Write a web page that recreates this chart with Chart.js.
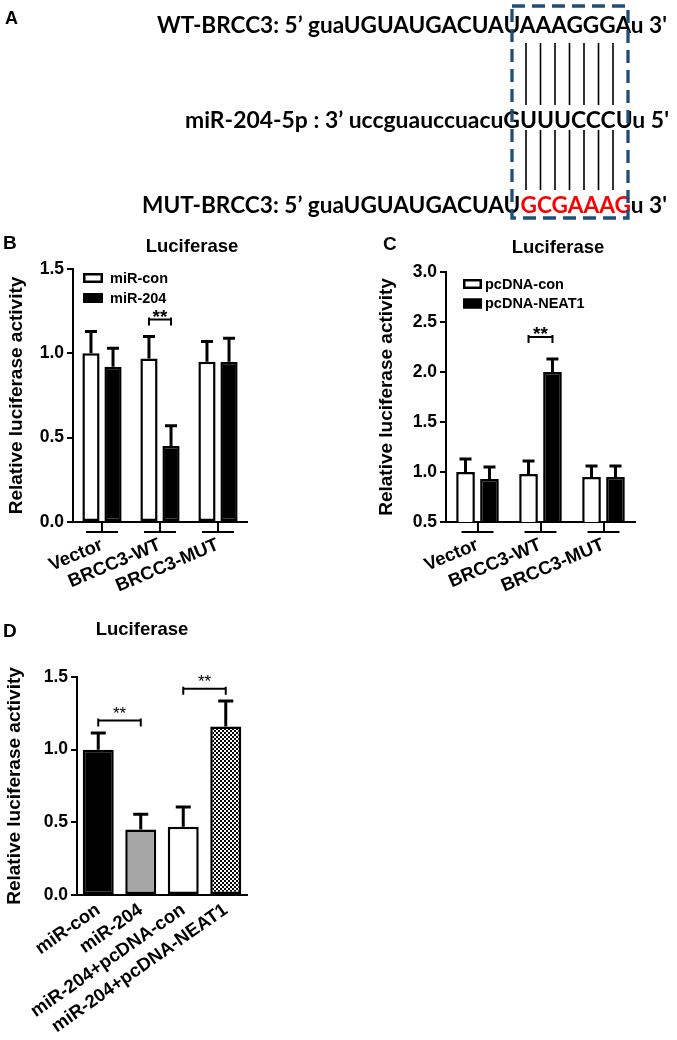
<!DOCTYPE html>
<html>
<head>
<meta charset="utf-8">
<script src="https://cdn.jsdelivr.net/npm/chart.js@4.4.1/dist/chart.umd.min.js"></script>
<style>
  html, body { margin: 0; padding: 0; background: #fff; }
  #page { position: relative; width: 677px; height: 1040px; overflow: hidden; background: #fff; }
  canvas { position: absolute; }
  #overlay { position: absolute; left: 0; top: 0; }
  .lbl { font-family: 'Liberation Sans', Arial, sans-serif; font-weight: bold; fill: #000; }
  .seq { font-family: Lato, 'Open Sans', sans-serif; font-weight: 700; font-size: 22px; fill: #000; }
</style>
</head>
<body>
<div id="page">
  <canvas id="chartB" width="330" height="380" style="left:0;top:230px"></canvas>
  <canvas id="chartC" width="337" height="380" style="left:340px;top:230px"></canvas>
  <canvas id="chartD" width="340" height="440" style="left:0;top:600px"></canvas>

  <svg id="overlay" width="677" height="1040">
    <text class="lbl" x="5" y="24" font-size="18">A</text>
    <text class="lbl" x="3" y="249" font-size="19">B</text>
    <text class="lbl" x="383" y="250" font-size="19">C</text>
    <text class="lbl" x="3" y="637" font-size="19">D</text>

    <text class="lbl" x="192" y="252" font-size="18.5" text-anchor="middle">Luciferase</text>
    <text class="lbl" x="558" y="253" font-size="18.5" text-anchor="middle">Luciferase</text>
    <text class="lbl" x="142" y="635" font-size="18.5" text-anchor="middle">Luciferase</text>

    <text class="seq" x="157" y="33" textLength="510" lengthAdjust="spacingAndGlyphs">WT-BRCC3: 5’ guaUGUAUGACUAUAAAGGGAu 3'</text>
    <text class="seq" x="185" y="128" textLength="484" lengthAdjust="spacingAndGlyphs">miR-204-5p : 3’ uccguauccuacuGUUUCCCUu 5'</text>
    <text class="seq" x="142" y="213" textLength="525" lengthAdjust="spacingAndGlyphs">MUT-BRCC3: 5’ guaUGUAUGACUAU<tspan fill="#ff0000">GCGAAAG</tspan>u 3'</text>
    <g id="pairLines" stroke="#000" stroke-width="1.6"></g>
    <rect x="512" y="6" width="116" height="212" fill="none" stroke="#1f4e79" stroke-width="3.3" stroke-dasharray="13 7"></rect>
  </svg>
</div>

<script>
// panel B
var groupLabels = ['Vector', 'BRCC3-WT', 'BRCC3-MUT'];
var bMirCon = [1.00, 0.97, 0.95];
var bMirConErr = [1.13, 1.10, 1.07];
var bMir204 = [0.92, 0.45, 0.95];
var bMir204Err = [1.03, 0.57, 1.09];

// panel C
var cPcdnaCon = [1.00, 0.98, 0.95];
var cPcdnaConErr = [1.13, 1.11, 1.06];
var cNeat1 = [0.93, 2.00, 0.95];
var cNeat1Err = [1.05, 2.13, 1.06];

// panel D
var dLabels = ['miR-con', 'miR-204', 'miR-204+pcDNA-con', 'miR-204+pcDNA-NEAT1'];
var dValues = [1.00, 0.45, 0.47, 1.16];
var dErr = [1.115, 0.555, 0.605, 1.335];

// significance brackets: [dataset, index] to [dataset, index] at y value
var bSig = [{ a: [0, 1], b: [1, 1], y: 1.2 }];
var cSig = [{ a: [0, 1], b: [1, 1], y: 2.35 }];
var dSig = [{ a: [0, 0], b: [0, 1], y: 1.2 }, { a: [0, 2], b: [0, 3], y: 1.42 }];

var yTitle = 'Relative luciferase activity';

// base-pairing lines in panel A
var pairs = document.getElementById('pairLines');
for (var k = 0; k < 7; k++) {
    var px = 526 + k * 14.5;
    [[43, 105], [130, 190]].forEach(function (seg) {
        var ln = document.createElementNS('http://www.w3.org/2000/svg', 'line');
        ln.setAttribute('x1', px); ln.setAttribute('x2', px);
        ln.setAttribute('y1', seg[0]); ln.setAttribute('y2', seg[1]);
        pairs.appendChild(ln);
    });
}

Chart.defaults.font.family = "'Liberation Sans', Arial, sans-serif";
Chart.defaults.color = '#000';
Chart.defaults.animation = false;

var errorBars = {
    id: 'errorBars',
    afterDatasetsDraw: function (chart, args, opts) {
        var ctx = chart.ctx, y = chart.scales.y;
        ctx.save();
        ctx.strokeStyle = '#000';
        ctx.lineWidth = 3;
        chart.data.datasets.forEach(function (ds, i) {
            chart.getDatasetMeta(i).data.forEach(function (bar, j) {
                var top = y.getPixelForValue(ds.err[j]);
                ctx.beginPath();
                ctx.moveTo(bar.x, bar.y);
                ctx.lineTo(bar.x, top);
                ctx.moveTo(bar.x - opts.cap, top);
                ctx.lineTo(bar.x + opts.cap, top);
                ctx.stroke();
            });
        });
        ctx.restore();
    }
};

var brackets = {
    id: 'brackets',
    afterDatasetsDraw: function (chart, args, opts) {
        var ctx = chart.ctx, y = chart.scales.y;
        ctx.save();
        ctx.strokeStyle = '#000';
        ctx.fillStyle = '#000';
        ctx.lineWidth = 2;
        ctx.font = opts.font;
        ctx.textAlign = 'center';
        ctx.textBaseline = 'alphabetic';
        opts.marks.forEach(function (m) {
            var a = chart.getDatasetMeta(m.a[0]).data[m.a[1]];
            var b = chart.getDatasetMeta(m.b[0]).data[m.b[1]];
            var yy = y.getPixelForValue(m.y);
            ctx.beginPath();
            ctx.moveTo(a.x, yy); ctx.lineTo(b.x, yy);
            ctx.moveTo(a.x, yy - 2); ctx.lineTo(a.x, yy + 6);
            ctx.moveTo(b.x, yy - 2); ctx.lineTo(b.x, yy + 6);
            ctx.stroke();
            ctx.fillText('**', (a.x + b.x) / 2, yy + opts.textDy);
        });
        ctx.restore();
    }
};

var groupLines = {
    id: 'groupLines',
    afterDraw: function (chart, args, opts) {
        var ctx = chart.ctx, x = chart.scales.x;
        var yb = chart.chartArea.bottom + opts.drop;
        ctx.save();
        ctx.strokeStyle = '#000';
        ctx.lineWidth = 2;
        chart.data.labels.forEach(function (l, i) {
            var c = x.getPixelForValue(i);
            ctx.beginPath();
            ctx.moveTo(c - opts.half, yb);
            ctx.lineTo(c + opts.half, yb);
            ctx.stroke();
        });
        ctx.restore();
    }
};

// legend drawn inside the plot, top-left, from the datasets
var innerLegend = {
    id: 'innerLegend',
    afterDraw: function (chart, args, opts) {
        var ctx = chart.ctx, area = chart.chartArea;
        ctx.save();
        ctx.font = 'bold 14.5px "Liberation Sans", Arial';
        ctx.textBaseline = 'middle';
        ctx.textAlign = 'left';
        chart.data.datasets.forEach(function (ds, i) {
            var x = area.left + opts.dx, y = area.top + opts.dy + i * opts.step;
            ctx.fillStyle = ds.backgroundColor;
            ctx.fillRect(x, y, opts.w, 10);
            ctx.strokeStyle = ds.borderColor;
            ctx.lineWidth = 2.5;
            ctx.strokeRect(x + 1.25, y + 1.25, opts.w - 2.5, 7.5);
            ctx.fillStyle = '#000';
            ctx.fillText(ds.label, x + opts.w + opts.gap, y + 5.5);
        });
        ctx.restore();
    }
};

function yAxis(min, max, width, titleTop) {
    return {
        min: min, max: max,
        afterFit: function (s) { s.width = width; },
        grid: { drawOnChartArea: false, tickLength: 6, color: '#000', lineWidth: 2 },
        border: { color: '#000', width: 2 },
        ticks: {
            stepSize: 0.5, padding: 3,
            font: { size: 17.5, weight: 'bold' },
            callback: function (v) { return v.toFixed(1); }
        },
        title: { display: true, text: yTitle, font: { size: 19, weight: 'bold' }, padding: { top: titleTop, bottom: 0 } }
    };
}

function groupedChart(id, names, vals, errs, yMin, yMax, pad, yWidth, titleTop, sig, leg) {
    return new Chart(document.getElementById(id), {
        type: 'bar',
        data: {
            labels: groupLabels,
            datasets: [{
                label: names[0], data: vals[0], err: errs[0],
                backgroundColor: '#fff', borderColor: '#000', borderWidth: 2.5, borderSkipped: false
            }, {
                label: names[1], data: vals[1], err: errs[1],
                backgroundColor: '#000', borderColor: '#000', borderWidth: 2.5, borderSkipped: false
            }]
        },
        options: {
            responsive: false,
            devicePixelRatio: 1,
            layout: { padding: { top: pad.top, right: pad.right, left: 0, bottom: 0 } },
            categoryPercentage: 0.76,
            barPercentage: 0.78,
            plugins: {
                legend: { display: false },
                tooltip: { enabled: false },
                errorBars: { cap: 6 },
                brackets: { marks: sig, font: 'bold 19px "Liberation Sans", Arial', textDy: 3 },
                groupLines: { drop: 10, half: 16 },
                innerLegend: leg
            },
            scales: {
                x: {
                    afterFit: function (s) { s.height = 88; },
                    grid: { drawOnChartArea: false, offset: false, tickLength: 10, color: '#000', lineWidth: 2 },
                    border: { color: '#000', width: 2 },
                    ticks: { autoSkip: false, maxRotation: 23, minRotation: 23, padding: 2, font: { size: 18.5, weight: 'bold' } }
                },
                y: yAxis(yMin, yMax, yWidth, titleTop)
            }
        },
        plugins: [errorBars, brackets, groupLines, innerLegend]
    });
}

groupedChart('chartB', ['miR-con', 'miR-204'], [bMirCon, bMir204], [bMirConErr, bMir204Err],
    0, 1.5, { top: 39, right: 83 }, 73, 5, bSig, { dx: 10, dy: 4, step: 20, w: 20, gap: 7 });

groupedChart('chartC', ['pcDNA-con', 'pcDNA-NEAT1'], [cPcdnaCon, cNeat1], [cPcdnaConErr, cNeat1Err],
    0.5, 3.0, { top: 42, right: 42 }, 106, 35, cSig, { dx: 17, dy: 7, step: 19.5, w: 19, gap: 3 });

// panel D
var dCanvas = document.getElementById('chartD');
var tile = document.createElement('canvas');
tile.width = 4; tile.height = 4;
var tg = tile.getContext('2d');
tg.fillStyle = '#fff'; tg.fillRect(0, 0, 4, 4);
tg.fillStyle = '#000'; tg.fillRect(0, 0, 2, 2); tg.fillRect(2, 2, 2, 2);
var checker = dCanvas.getContext('2d').createPattern(tile, 'repeat');

new Chart(dCanvas, {
    type: 'bar',
    data: {
        labels: dLabels,
        datasets: [{
            data: dValues, err: dErr,
            backgroundColor: ['#000', '#a6a6a6', '#fff', checker],
            borderColor: '#000', borderWidth: 2.5, borderSkipped: false
        }]
    },
    options: {
        responsive: false,
        devicePixelRatio: 1,
        layout: { padding: { top: 77, right: 93, left: 0, bottom: 0 } },
        categoryPercentage: 0.9,
        barPercentage: 0.81,
        plugins: {
            legend: { display: false },
            tooltip: { enabled: false },
            errorBars: { cap: 7.5 },
            brackets: { marks: dSig, font: '17px "Liberation Sans", Arial', textDy: -2 }
        },
        scales: {
            x: {
                afterFit: function (s) { s.height = 145; },
                grid: { drawOnChartArea: false, drawTicks: false, color: '#000', lineWidth: 2 },
                border: { color: '#000', width: 2 },
                ticks: { autoSkip: false, maxRotation: 35, minRotation: 35, padding: 4, font: { size: 18.5, weight: 'bold' } }
            },
            y: yAxis(0, 1.5, 77, 3)
        }
    },
    plugins: [errorBars, brackets]
});
</script>
</body>
</html>
